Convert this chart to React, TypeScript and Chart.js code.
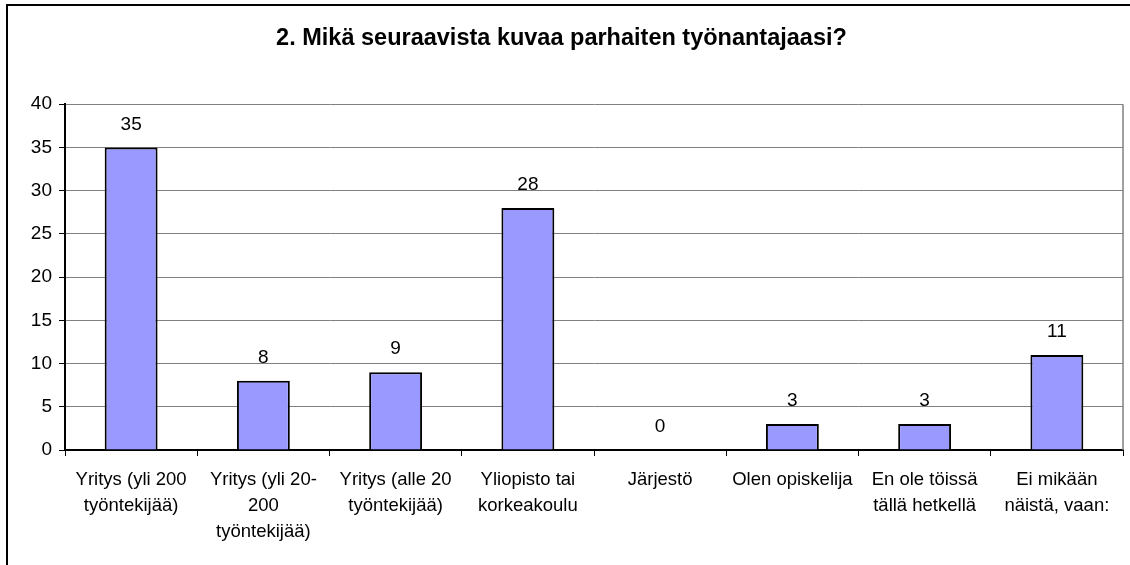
import React, { useEffect, useRef } from "react";
import { Chart, registerables } from "chart.js";

Chart.register(...registerables);

const TITLE = "2. Mikä seuraavista kuvaa parhaiten työnantajaasi?";
const CATEGORIES: string[][] = [
  ["Yritys (yli 200", "työntekijää)"],
  ["Yritys (yli 20-", "200", "työntekijää)"],
  ["Yritys (alle 20", "työntekijää)"],
  ["Yliopisto tai", "korkeakoulu"],
  ["Järjestö"],
  ["Olen opiskelija"],
  ["En ole töissä", "tällä hetkellä"],
  ["Ei mikään", "näistä, vaan:"],
];
const VALUES: number[] = [35, 8, 9, 28, 0, 3, 3, 11];
const Y_MIN = 0;
const Y_MAX = 40;
const Y_STEP = 5;

const FONT_FAMILY = "'Liberation Sans', Arial, sans-serif";

const framePlugin = {
  id: "frame",
  afterDraw(chart: any) {
    const { ctx, chartArea } = chart;
    ctx.save();
    ctx.strokeStyle = "#808080";
    ctx.lineWidth = 1.5;
    ctx.beginPath();
    ctx.moveTo(chartArea.right, chartArea.top);
    ctx.lineTo(chartArea.right, chartArea.bottom);
    ctx.stroke();
    ctx.strokeStyle = "#000";
    ctx.lineWidth = 2;
    ctx.beginPath();
    ctx.moveTo(7, 565);
    ctx.lineTo(7, 5);
    ctx.lineTo(1130, 5);
    ctx.stroke();
    ctx.restore();
  },
};

const valueLabelPlugin = {
  id: "valueLabels",
  afterDatasetsDraw(chart: any) {
    const { ctx } = chart;
    const meta = chart.getDatasetMeta(0);
    const data = chart.data.datasets[0].data as number[];
    ctx.save();
    ctx.fillStyle = "#000";
    ctx.font = `19px ${FONT_FAMILY}`;
    ctx.textAlign = "center";
    ctx.textBaseline = "middle";
    meta.data.forEach((bar: any, i: number) => {
      ctx.fillText(String(data[i]), bar.x, bar.y - 23);
    });
    ctx.restore();
  },
};

export default function App() {
  const ref = useRef<HTMLCanvasElement | null>(null);

  useEffect(() => {
    if (!ref.current) return;
    const chart = new Chart(ref.current, {
      type: "bar",
      data: {
        labels: CATEGORIES,
        datasets: [
          {
            data: VALUES,
            backgroundColor: "#9999FF",
            borderColor: "#000000",
            borderWidth: 2,
            barPercentage: 0.4,
            categoryPercentage: 1,
          },
        ],
      },
      options: {
        responsive: false,
        animation: false,
        layout: { padding: { left: 0, right: 7, top: 0, bottom: 0 } },
        plugins: {
          legend: { display: false },
          tooltip: { enabled: false },
          title: {
            display: true,
            text: TITLE,
            color: "#000",
            font: { family: FONT_FAMILY, size: 23.5, weight: "bold", lineHeight: 1.2 },
            padding: { top: 24, bottom: 52 },
          },
        },
        scales: {
          x: {
            grid: {
              offset: true,
              drawOnChartArea: false,
              drawTicks: true,
              tickLength: 6,
              color: "#000",
            },
            border: { display: true, color: "#000", width: 2 },
            ticks: {
              color: "#000",
              font: { family: FONT_FAMILY, size: 18.5, lineHeight: "26px" },
              padding: 11,
              maxRotation: 0,
              autoSkip: false,
            },
            afterFit(scale: any) {
              scale.height = 115;
            },
          },
          y: {
            min: Y_MIN,
            max: Y_MAX,
            ticks: {
              stepSize: Y_STEP,
              color: "#000",
              font: { family: FONT_FAMILY, size: 19 },
              padding: 7,
            },
            grid: {
              color: "#808080",
              tickColor: "#000",
              tickLength: 6,
              lineWidth: 1,
            },
            border: { display: true, color: "#000", width: 2 },
            afterFit(scale: any) {
              scale.width = 65;
            },
          },
        },
      },
      plugins: [framePlugin, valueLabelPlugin],
    });
    return () => chart.destroy();
  }, []);

  return (
    <div style={{ position: "fixed", left: 0, top: 0, width: 1130, height: 565, background: "#fff" }}>
      <canvas ref={ref} width={1130} height={565} />
    </div>
  );
}
